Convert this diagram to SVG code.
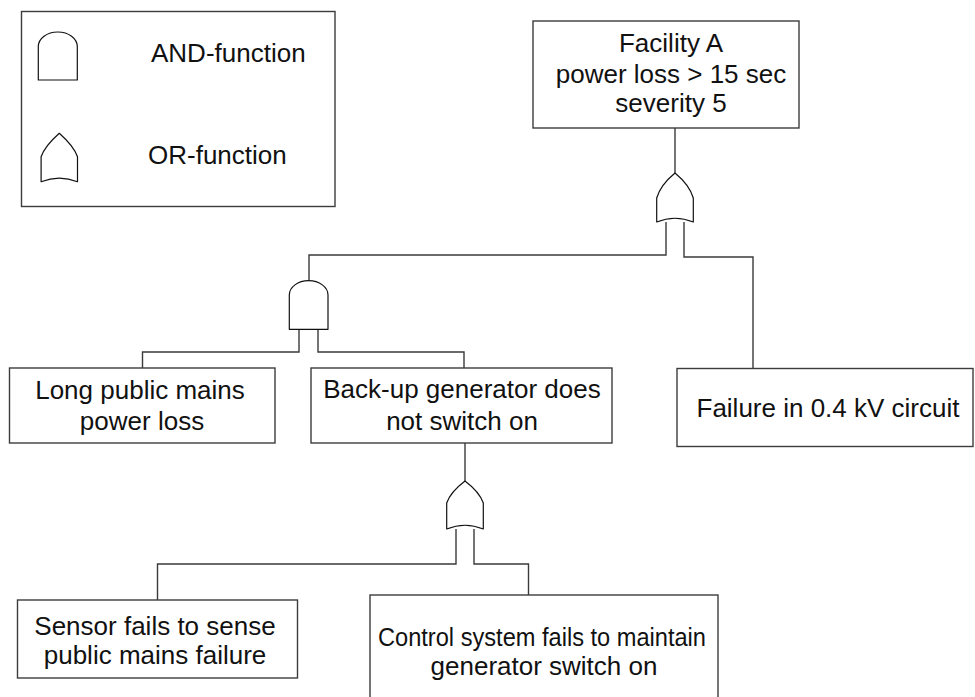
<svg xmlns="http://www.w3.org/2000/svg" width="975" height="697" viewBox="0 0 975 697">
  <style>
    .box { fill: #ffffff; stroke: #3c3c3c; stroke-width: 1.4; }
    .gate { fill: #ffffff; stroke: #111111; stroke-width: 1.2; stroke-linejoin: round; }
    .wire { fill: none; stroke: #3a3a3a; stroke-width: 1.4; }
    .lbl { font-family: "Liberation Sans", Arial, sans-serif; font-size: 26px; fill: #111111; text-anchor: middle; }
    .leg { font-family: "Liberation Sans", Arial, sans-serif; font-size: 26px; fill: #111111; }
  </style>
  <rect width="975" height="697" fill="#ffffff"/>

  <!-- legend -->
  <g id="legend">
    <rect class="box" x="21.5" y="11.5" width="313.5" height="195"/>
    <path class="gate" d="M38.3,80 V46.7 A19.5,14.7 0 0 1 77.3,46.7 V80 Z"/>
    <text class="leg" x="151" y="62">AND-function</text>
    <path class="gate" d="M59.3,133.3 Q45,146 41.1,156.7 V181.7 Q59.3,174.5 77.5,181.7 V156.7 Q73.6,146 59.3,133.3 Z"/>
    <text class="leg" x="148" y="164">OR-function</text>
  </g>

  <!-- connectors -->
  <g id="connectors">
    <polyline class="wire" points="675,128 675,173"/>
    <polyline class="wire" points="666,222 666,255 309,255 309,281"/>
    <polyline class="wire" points="684,222 684,257 753,257 753,368.5"/>
    <polyline class="wire" points="299,329 299,352 142.5,352 142.5,368"/>
    <polyline class="wire" points="318,329 318,352 464,352 464,368"/>
    <polyline class="wire" points="465,443 465,481"/>
    <polyline class="wire" points="456,529 456,564 157.5,564 157.5,600"/>
    <polyline class="wire" points="474,529 474,564 528.5,564 528.5,595"/>
  </g>

  <!-- gates -->
  <g id="gate-top-or">
    <path class="gate" d="M675,173 Q660.5,185 656.7,198 V222 Q675,214.5 693.3,222 V198 Q689.5,185 675,173 Z"/>
  </g>
  <g id="gate-and">
    <path class="gate" d="M289.3,329.3 V295 A19.35,14.3 0 0 1 328,295 V329.3 Z"/>
  </g>
  <g id="gate-lower-or">
    <path class="gate" d="M465,481 Q450.5,492 446.7,503 V529 Q465,521.5 483.3,529 V503 Q479.5,492 465,481 Z"/>
  </g>

  <!-- events -->
  <g id="top-event">
    <rect class="box" x="533" y="21" width="266" height="107"/>
    <text class="lbl" x="671" y="52">Facility A</text>
    <text class="lbl" x="671" y="83">power loss &gt; 15 sec</text>
    <text class="lbl" x="671" y="112">severity 5</text>
  </g>
  <g id="mains-loss">
    <rect class="box" x="9.5" y="368" width="265.5" height="75"/>
    <text class="lbl" x="140" y="399">Long public mains</text>
    <text class="lbl" x="142" y="430">power loss</text>
  </g>
  <g id="generator-fails">
    <rect class="box" x="311" y="368" width="301" height="75"/>
    <text class="lbl" x="462" y="398">Back-up generator does</text>
    <text class="lbl" x="462" y="430">not switch on</text>
  </g>
  <g id="circuit-failure">
    <rect class="box" x="677" y="368.5" width="296" height="78"/>
    <text class="lbl" x="828" y="417">Failure in 0.4 kV circuit</text>
  </g>
  <g id="sensor-fails">
    <rect class="box" x="17.5" y="600" width="280" height="78"/>
    <text class="lbl" x="155" y="635">Sensor fails to sense</text>
    <text class="lbl" x="155" y="664">public mains failure</text>
  </g>
  <g id="control-fails">
    <rect class="box" x="370" y="595" width="348" height="104"/>
    <text class="lbl" x="542" y="646" textLength="328" lengthAdjust="spacingAndGlyphs">Control system fails to maintain</text>
    <text class="lbl" x="544" y="675">generator switch on</text>
  </g>
</svg>
